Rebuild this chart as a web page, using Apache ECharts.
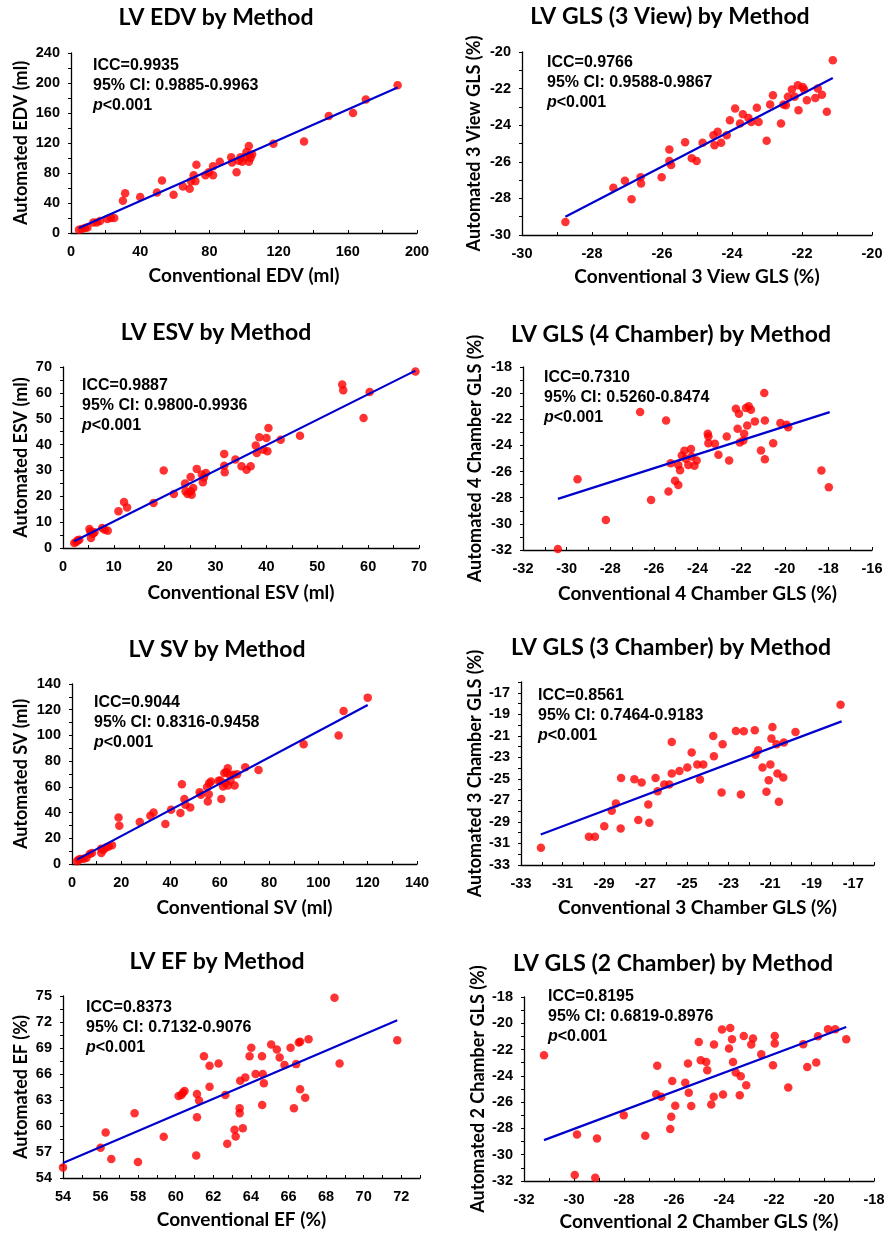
<!DOCTYPE html>
<html><head><meta charset="utf-8">
<script src="https://cdn.jsdelivr.net/npm/echarts@6/dist/echarts.min.js"></script>
<style>html,body{margin:0;padding:0;background:#fff}#c{width:889px;height:1235px}</style>
</head><body><div id="c"></div>
<script>
// ---------- DATA ----------
const edvPoints = [[4.6,4.4],[6.2,5.3],[8.1,6.6],[9.5,7.5],[12.9,14],[14.9,14],[16.8,16],[21,18.6],[23,20],[25,20],[30,43],[31.3,53],[40,48],[49.7,54],[52.6,70],[59.3,51],[64.7,62],[68.6,59],[69.4,69],[70.9,77],[71.9,69],[72.5,91],[77.7,77],[79.6,81],[82.1,89],[82.1,77],[86,95],[92.6,101],[93.1,94],[95.7,81],[97,96.5],[98,101],[99,95],[100.5,101],[101.4,108],[102.8,116],[103.4,104],[103.8,100],[104.7,105],[102.8,95],[117,119],[134.7,122],[149,156],[163,160],[170.4,178],[188.8,197]];
const edvFit = [[4.6,6.6],[188.8,194]];

const gls3vPoints = [[-28.76,-29.29],[-27.39,-27.42],[-27.06,-27.04],[-26.87,-28.04],[-26.61,-26.85],[-26.6,-27.18],[-26.01,-26.85],[-25.79,-25.33],[-25.79,-25.95],[-25.74,-26.18],[-25.34,-24.93],[-25.15,-25.8],[-25.01,-25.96],[-24.84,-24.96],[-24.53,-24.55],[-24.5,-25.09],[-24.41,-24.36],[-24.31,-24.96],[-24.15,-24.55],[-24.06,-23.73],[-23.91,-23.09],[-23.77,-23.91],[-23.69,-23.4],[-23.53,-23.6],[-23.45,-23.82],[-23.29,-23.05],[-23.24,-23.82],[-23.01,-24.85],[-22.91,-22.87],[-22.83,-22.36],[-22.6,-23.91],[-22.53,-22.87],[-22.46,-22.91],[-22.4,-22.45],[-22.29,-22.05],[-22.21,-22.45],[-22.12,-21.82],[-22.1,-23.18],[-21.98,-21.91],[-21.94,-22.05],[-21.86,-22.64],[-21.62,-22.51],[-21.55,-22.0],[-21.43,-22.33],[-21.29,-23.27],[-21.12,-20.45]];
const gls3vFit = [[-28.76,-29.0],[-21.12,-21.42]];

const esvPoints = [[2.2,1.9],[2.6,2.3],[2.9,3.0],[3.2,3.2],[5.2,7.3],[5.4,6.4],[5.5,3.9],[5.9,5.5],[6.2,6.1],[7.7,7.7],[8.2,7.1],[8.8,6.7],[10.9,14.2],[12,17.8],[12.6,15.7],[17.8,17.4],[19.8,30],[21.8,20.9],[24,24.9],[24.1,21.9],[24.5,20.9],[25.1,21.9],[25.1,27.5],[25.3,20.6],[25.6,23.2],[26.3,30.6],[27.3,28.4],[27.5,25.4],[27.7,27.3],[28.1,29],[31.7,36.4],[31.7,31.8],[31.8,29.3],[33.9,34.2],[35.1,31.6],[36.1,30.3],[36.9,31.6],[37.9,39.6],[38.1,36.7],[38.6,42.8],[39.4,38],[40,42.5],[40.2,37.4],[40.4,46.4],[42.8,41.9],[46.6,43.4],[54.9,63.2],[55.1,61],[59.1,50.3],[60.3,60.3],[69.3,68.3]];
const esvFit = [[2.2,2.6],[69.3,68.6]];

const gls4cPoints = [[-30.4,-31.92],[-29.5,-26.58],[-28.2,-29.7],[-26.63,-21.45],[-26.13,-28.17],[-25.44,-22.09],[-25.33,-27.53],[-25.23,-25.36],[-25.03,-26.71],[-24.88,-27.02],[-24.88,-25.49],[-24.8,-25.9],[-24.72,-24.77],[-24.6,-24.41],[-24.54,-25.02],[-24.42,-25.49],[-24.3,-24.28],[-24.27,-24.85],[-24.14,-25.56],[-24.04,-25.15],[-23.53,-23.11],[-23.5,-23.32],[-23.5,-23.83],[-23.2,-23.88],[-23.04,-24.72],[-22.66,-23.32],[-22.55,-25.15],[-22.24,-21.19],[-22.16,-22.73],[-22.1,-21.58],[-22.06,-23.78],[-21.9,-23.62],[-21.86,-23.11],[-21.78,-21.14],[-21.72,-22.47],[-21.65,-21.01],[-21.55,-21.27],[-21.37,-22.16],[-21.09,-24.39],[-20.94,-19.99],[-20.91,-22.09],[-20.91,-25.05],[-20.53,-23.83],[-20.2,-22.29],[-19.92,-22.42],[-19.84,-22.6],[-18.32,-25.92],[-17.98,-27.2]];
const gls4cFit = [[-30.4,-28.09],[-17.94,-21.45]];

const svPoints = [[2.0,2.1],[2.7,3.4],[3.4,3.9],[4.7,4.1],[5.8,4.7],[7.2,7.8],[8.1,8.5],[11.8,11.9],[11.9,8.5],[12.8,11.1],[13.9,12.9],[14.9,13.7],[16.2,14.5],[18.9,36.2],[19.2,29.8],[27.5,32.6],[31.8,37.5],[33.1,40.1],[37.9,31.1],[40.2,42.2],[44,39.6],[44.6,62.1],[45.6,50.5],[46,46.1],[48,44],[51.8,55.9],[52.3,53.8],[54.8,59.8],[55.1,48.7],[55.5,54.3],[55.7,62.9],[56.4,64.2],[59.5,64.7],[60.2,65],[60.6,50.5],[61.3,60.3],[61.8,70.7],[62.2,62.9],[62.6,71.4],[63.2,74.5],[63.3,61.1],[64,69.4],[64.3,65],[65.6,69.4],[66,61.1],[67,69.9],[70.3,75.3],[75.7,73.2],[94,93.2],[108.2,99.9],[110.2,119],[120,129.4]];
const svFit = [[2,3.4],[120,123.7]];

const gls3cPoints = [[-32.04,-31.39],[-29.73,-30.37],[-29.44,-30.37],[-28.99,-29.39],[-28.63,-27.97],[-28.43,-27.29],[-28.2,-29.6],[-28.18,-24.91],[-27.54,-25.03],[-27.35,-28.83],[-27.19,-25.34],[-26.87,-27.38],[-26.82,-29.08],[-26.52,-24.91],[-26.42,-26.14],[-26.1,-25.53],[-25.86,-25.53],[-25.74,-21.57],[-25.74,-24.51],[-25.37,-24.26],[-24.99,-23.95],[-24.78,-22.56],[-24.51,-23.67],[-24.38,-25.06],[-24.22,-23.67],[-23.74,-21.02],[-23.71,-22.9],[-23.34,-26.27],[-23.29,-21.79],[-22.65,-20.55],[-22.41,-26.45],[-22.27,-20.58],[-21.74,-20.49],[-21.71,-22.75],[-21.58,-22.34],[-21.37,-23.95],[-21.18,-26.2],[-21.07,-25.12],[-20.99,-23.67],[-20.94,-21.26],[-20.89,-20.18],[-20.69,-21.79],[-20.65,-24.51],[-20.58,-27.13],[-20.37,-24.88],[-20.34,-21.63],[-19.78,-20.64],[-17.61,-18.11]];
const gls3cFit = [[-32.05,-30.16],[-17.56,-19.66]];

const efPoints = [[54,55.2],[56,57.5],[56.27,59.25],[56.57,56.18],[57.81,61.47],[57.99,55.84],[59.36,58.75],[60.15,63.46],[60.3,63.58],[60.38,63.85],[60.47,64.04],[61.09,56.6],[61.13,61.01],[61.13,63.69],[61.24,62.93],[61.5,68.06],[61.8,64.54],[61.8,66.95],[62.28,67.22],[62.64,63.58],[62.74,57.95],[63.13,59.56],[63.19,58.79],[63.4,62.05],[63.4,61.47],[63.43,65.23],[63.57,59.75],[63.7,65.61],[63.93,68.06],[64.02,69.02],[64.25,65.99],[64.59,68.06],[64.6,62.43],[64.63,65.99],[64.69,64.92],[65.08,69.4],[65.38,68.83],[65.53,67.91],[65.79,67.03],[66.11,69.02],[66.29,62.05],[66.41,67.14],[66.55,69.63],[66.62,69.71],[66.62,64.23],[66.89,63.27],[67.07,70.02],[68.45,74.8],[68.72,67.22],[71.79,69.9]];
const efFit = [[54,55.72],[71.79,72.2]];

const gls2cPoints = [[-31.2,-22.43],[-29.97,-31.54],[-29.88,-28.46],[-29.15,-31.75],[-29.08,-28.76],[-28.01,-26.99],[-27.15,-28.56],[-26.71,-25.39],[-26.67,-23.24],[-26.51,-25.59],[-26.15,-28.05],[-26.11,-27.11],[-26.07,-24.4],[-25.95,-26.28],[-25.55,-24.53],[-25.44,-23.06],[-25.41,-25.29],[-25.31,-26.3],[-25.01,-21.42],[-24.93,-22.81],[-24.71,-22.94],[-24.67,-23.57],[-24.51,-26.18],[-24.41,-25.59],[-24.4,-21.62],[-24.08,-20.48],[-24.04,-25.42],[-23.8,-21.92],[-23.75,-20.35],[-23.68,-21.22],[-23.64,-22.94],[-23.53,-23.75],[-23.33,-24.03],[-23.37,-25.47],[-23.21,-20.96],[-23.11,-24.71],[-22.91,-21.62],[-22.84,-21.16],[-22.51,-22.35],[-22.04,-23.19],[-21.97,-21.54],[-21.97,-20.96],[-21.43,-24.89],[-20.83,-21.59],[-20.67,-23.32],[-20.31,-22.99],[-20.24,-20.99],[-19.84,-20.46],[-19.55,-20.46],[-19.11,-21.22]];
const gls2cFit = [[-31.2,-28.89],[-19.11,-20.28]];

const chartTitles = ['LV EDV by Method','LV GLS (3 View) by Method','LV ESV by Method','LV GLS (4 Chamber) by Method','LV SV by Method','LV GLS (3 Chamber) by Method','LV EF by Method','LV GLS (2 Chamber) by Method'];
const xNames = ['Conventional EDV (ml)','Conventional 3 View GLS (%)','Conventional ESV (ml)','Conventional 4 Chamber GLS (%)','Conventional SV (ml)','Conventional 3 Chamber GLS (%)','Conventional EF (%)','Conventional 2 Chamber GLS (%)'];
const yNames = ['Automated EDV (ml)','Automated 3 View GLS (%)','Automated ESV (ml)','Automated 4 Chamber GLS (%)','Automated SV (ml)','Automated 3 Chamber GLS (%)','Automated EF (%)','Automated 2 Chamber GLS (%)'];
const iccValues = ['0.9935','0.9766','0.9887','0.7310','0.9044','0.8561','0.8373','0.8195'];
const ciValues = ['0.9885-0.9963','0.9588-0.9867','0.9800-0.9936','0.5260-0.8474','0.8316-0.9458','0.7464-0.9183','0.7132-0.9076','0.6819-0.8976'];
// axis ranges: [min, max, interval]
const xRanges = [[0,200,40],[-30,-20,2],[0,70,10],[-32,-16,2],[0,140,20],[-33,-16,2],[54,73,2],[-32,-18,2]];
const yRanges = [[0,240,40],[-30,-20,2],[0,70,10],[-32,-18,2],[0,140,20],[-33,-16,2],[54,75,3],[-32,-18,2]];

const pointSets = [edvPoints,gls3vPoints,esvPoints,gls4cPoints,svPoints,gls3cPoints,efPoints,gls2cPoints];
const fitSets = [edvFit,gls3vFit,esvFit,gls4cFit,svFit,gls3cFit,efFit,gls2cFit];

// ---------- LAYOUT ----------
const grids = [
  {left:71, top:53, width:346, height:180},
  {left:522, top:52, width:350, height:183},
  {left:63, top:367, width:356, height:181},
  {left:523, top:367, width:349, height:183},
  {left:72, top:684, width:345, height:180},
  {left:521, top:682, width:353, height:183},
  {left:63, top:996, width:357, height:182},
  {left:524, top:997, width:350, height:184}
];
const titlePos = [[216,18],[670,17],[216,333],[671,335],[217,650],[671,648],[217,962],[673,964]];
const notePos = [[93,56],[547,53],[82,376],[544,368],[94,693],[538,686],[86,998],[548,987]];
const yNameGap = [41,39,33,39,42,37,33,37];
const xNameGap = [33,32,35,34,34,33,32,31];

const FONT_T = 'Lato';
const FONT_N = 'Liberation Sans';

function labelFmt(r){
  return function(v){
    const k = (v - r[0]) / r[2];
    return Math.abs(k - Math.round(k)) < 1e-6 ? String(v) : '';
  };
}

const option = {
  backgroundColor:'#fff',
  animation:false,
  grid: grids.map(g => Object.assign({outerBoundsMode:'none', containLabel:false, show:false}, g)),
  xAxis: xRanges.map((r,i) => ({
    type:'value', gridIndex:i, min:r[0], max:r[1], interval:r[2],
    name:xNames[i], nameLocation:'middle', nameGap:xNameGap[i],
    nameTextStyle:{fontFamily:FONT_T, fontWeight:'bold', fontSize:19, color:'#000'},
    axisLine:{show:true, onZero:false, lineStyle:{color:'#000', width:1.3}},
    axisTick:{show:true, inside:true, length:3, lineStyle:{color:'#000', width:1}},
    minorTick:{show:true, splitNumber:2, length:3, lineStyle:{color:'#000', width:1}},
    splitLine:{show:false},
    axisLabel:{fontFamily:FONT_N, fontWeight:'bold', fontSize:14.5, color:'#000', margin:11, formatter:labelFmt(r)}
  })),
  yAxis: yRanges.map((r,i) => ({
    type:'value', gridIndex:i, min:r[0], max:r[1], interval:r[2],
    name:yNames[i], nameLocation:'middle', nameGap:yNameGap[i],
    nameTextStyle:{fontFamily:FONT_T, fontWeight:'bold', fontSize:18, color:'#000'},
    axisLine:{show:true, onZero:false, lineStyle:{color:'#000', width:1.3}},
    axisTick:{show:true, inside:false, length:3, lineStyle:{color:'#000', width:1}},
    minorTick:{show:true, splitNumber:2, length:3, lineStyle:{color:'#000', width:1}},
    splitLine:{show:false},
    axisLabel:{fontFamily:FONT_N, fontWeight:'bold', fontSize:14.5, color:'#000', margin:11, formatter:labelFmt(r)}
  })),
  series: [],
  graphic: []
};

pointSets.forEach((pts,i) => {
  option.series.push({
    type:'scatter', xAxisIndex:i, yAxisIndex:i, data:pts,
    symbol:'circle', symbolSize:8.5, itemStyle:{color:'#ff0000'}, z:2
  });
  option.series.push({
    type:'line', xAxisIndex:i, yAxisIndex:i, data:fitSets[i],
    showSymbol:false, symbol:'none', lineStyle:{color:'#0000cc', width:2.2}, z:3
  });
});

chartTitles.forEach((t,i) => {
  option.graphic.push({
    type:'text', x:titlePos[i][0], y:titlePos[i][1], z:10,
    style:{text:t, fontFamily:FONT_T, fontWeight:'bold', fontSize:23, fill:'#000', align:'center', verticalAlign:'middle'}
  });
  option.graphic.push({
    type:'text', x:notePos[i][0], y:notePos[i][1], z:10,
    style:{
      text:'{b|ICC=' + iccValues[i] + '}\n{b|95% CI: ' + ciValues[i] + '}\n{i|p}{b|<0.001}',
      align:'left', verticalAlign:'top',
      rich:{
        b:{fontFamily:FONT_N, fontWeight:'bold', fontSize:16, lineHeight:20, fill:'#000', color:'#000'},
        i:{fontFamily:FONT_N, fontWeight:'bold', fontStyle:'italic', fontSize:16, lineHeight:20, fill:'#000', color:'#000'}
      }
    }
  });
});

const chart = echarts.init(document.getElementById('c'), null, {renderer:'canvas'});
chart.setOption(option);
</script>
</body></html>
